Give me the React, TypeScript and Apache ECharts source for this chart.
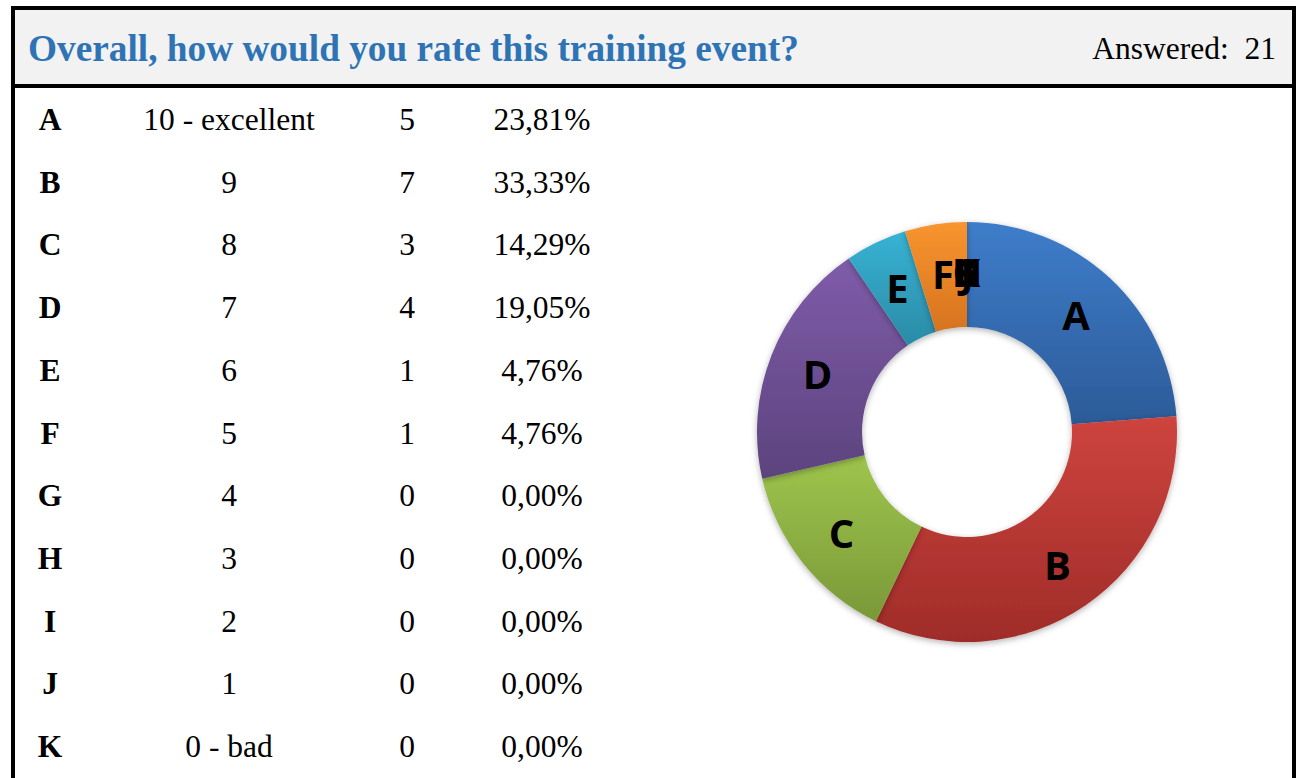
import React, { useEffect, useRef } from "react";
import * as echarts from "echarts";

const title = "Overall, how would you rate this training event?";
const answeredLabel = "Answered:  21";
const letters = ["A", "B", "C", "D", "E", "F", "G", "H", "I", "J", "K"];
const answers = ["10 - excellent", "9", "8", "7", "6", "5", "4", "3", "2", "1", "0 - bad"];
const counts = [5, 7, 3, 4, 1, 1, 0, 0, 0, 0, 0];
const percents = ["23,81%", "33,33%", "14,29%", "19,05%", "4,76%", "4,76%", "0,00%", "0,00%", "0,00%", "0,00%", "0,00%"];
const lightColors = ["#3e7dca", "#ce443e", "#9ec54d", "#7f5ca9", "#38b2d4", "#f8952f", "#2c4d75", "#772c2a", "#5f7530", "#4d3b62", "#276a7c"];
const darkColors = ["#2c5b98", "#9f2c29", "#7a9838", "#5c437e", "#2a8ba6", "#d6731f", "#203a58", "#5a201f", "#485924", "#3a2c4a", "#1d505e"];

export default function App() {
  const ref = useRef<HTMLDivElement>(null);
  useEffect(() => {
    if (!ref.current) return;
    const chart = echarts.init(ref.current, null, { renderer: "svg" });
    const rowY0 = 119.5;
    const rowStep = 62.7;
    const serif = "'Liberation Serif', 'Times New Roman', serif";
    const fs = 31.5;
    const tableTexts: any[] = [];
    letters.forEach((l, i) => {
      const y = rowY0 + i * rowStep;
      tableTexts.push({ type: "text", x: 50, y, style: { text: l, font: `bold ${fs}px ${serif}`, fill: "#000", align: "center", verticalAlign: "middle" } });
      tableTexts.push({ type: "text", x: 229, y, style: { text: answers[i], font: `${fs}px ${serif}`, fill: "#000", align: "center", verticalAlign: "middle" } });
      tableTexts.push({ type: "text", x: 407, y, style: { text: String(counts[i]), font: `${fs}px ${serif}`, fill: "#000", align: "center", verticalAlign: "middle" } });
      tableTexts.push({ type: "text", x: 542, y, style: { text: percents[i], font: `${fs}px ${serif}`, fill: "#000", align: "center", verticalAlign: "middle" } });
    });
    chart.setOption({
      animation: false,
      backgroundColor: "#ffffff",
      graphic: [
        { type: "rect", shape: { x: 15, y: 10, width: 1277, height: 74 }, style: { fill: "#f2f2f2" } },
        { type: "rect", shape: { x: 11, y: 6, width: 1285, height: 4 }, style: { fill: "#000" } },
        { type: "rect", shape: { x: 11, y: 84, width: 1285, height: 4 }, style: { fill: "#000" } },
        { type: "rect", shape: { x: 11, y: 6, width: 4, height: 772 }, style: { fill: "#000" } },
        { type: "rect", shape: { x: 1292, y: 6, width: 4, height: 772 }, style: { fill: "#000" } },
        { type: "text", x: 28, y: 48, style: { text: title, font: `bold 37.3px ${serif}`, fill: "#2e74b5", align: "left", verticalAlign: "middle" } },
        { type: "text", x: 1276, y: 48, style: { text: answeredLabel, font: `${fs}px ${serif}`, fill: "#000", align: "right", verticalAlign: "middle" } },
        ...tableTexts,
      ],
      series: [
        {
          type: "pie",
          center: [967, 432],
          radius: [105, 210],
          startAngle: 90,
          clockwise: true,
          avoidLabelOverlap: false,
          labelLayout: { hideOverlap: false },
          label: {
            show: true,
            position: "inside",
            formatter: "{b}",
            color: "#000",
            fontSize: 40,
            fontWeight: "bold",
            fontFamily: "'Open Sans', sans-serif",
          },
          labelLine: { show: false },
          emphasis: { disabled: true },
          itemStyle: { borderWidth: 0, shadowBlur: 6, shadowColor: "rgba(0,0,0,0.3)", shadowOffsetY: 2 },
          data: letters.map((l, i) => ({
            name: l,
            value: counts[i],
            itemStyle: {
              color: new echarts.graphic.LinearGradient(0, 0, 0, 1, [
                { offset: 0, color: lightColors[i] },
                { offset: 1, color: darkColors[i] },
              ]),
            },
          })),
        },
      ],
    });
    return () => chart.dispose();
  }, []);
  return <div ref={ref} style={{ position: "fixed", left: 0, top: 0, width: 1296, height: 778, background: "#fff" }} />;
}
